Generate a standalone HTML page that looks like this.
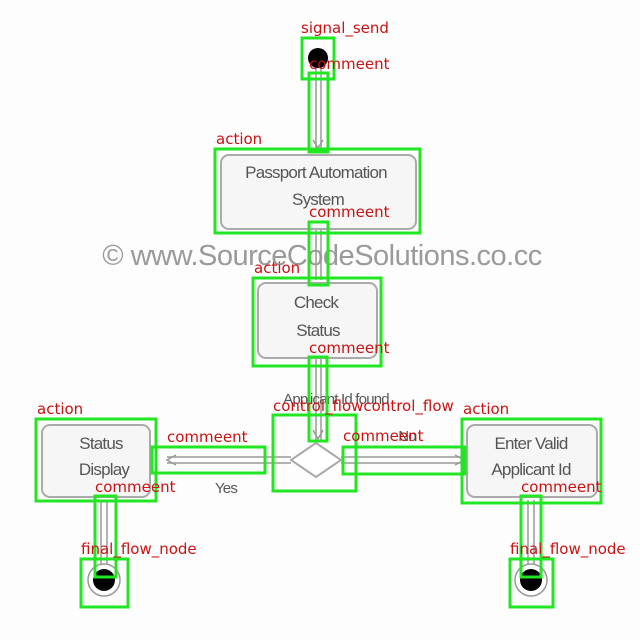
<!DOCTYPE html>
<html><head><style>body{margin:0;background:#fff}svg{display:block}</style></head><body>
<svg width="640" height="640" viewBox="0 0 640 640" xmlns="http://www.w3.org/2000/svg">
<rect width="640" height="640" fill="#fdfdfd"/>
<text x="322" y="265" text-anchor="middle" font-family="Liberation Sans, sans-serif" font-size="29" fill="#9a9a9a" letter-spacing="-0.5">© www.SourceCodeSolutions.co.cc</text>
<g stroke="#999" stroke-width="1.5" fill="none">
<line x1="316" y1="66" x2="316" y2="150"/><line x1="321" y1="66" x2="321" y2="150"/>
<line x1="316" y1="230" x2="316" y2="280"/><line x1="321" y1="230" x2="321" y2="280"/>
<line x1="316" y1="358" x2="316" y2="440"/><line x1="321" y1="358" x2="321" y2="440"/>
<line x1="291" y1="457" x2="167" y2="457"/><line x1="291" y1="463" x2="167" y2="463"/>
<line x1="341" y1="457" x2="463" y2="457"/><line x1="341" y1="463" x2="463" y2="463"/>
<line x1="101" y1="500" x2="101" y2="565"/><line x1="107" y1="500" x2="107" y2="565"/>
<line x1="528" y1="500" x2="528" y2="565"/><line x1="534" y1="500" x2="534" y2="565"/>
<polyline points="313,140 318,148 323,140"/>
<polyline points="313,430 318,439 323,430"/>
<polyline points="176,455 167,460 176,465"/>
<polyline points="455,455 464,460 455,465"/>
</g>
<circle cx="318" cy="58" r="10" fill="#000"/>
<g fill="#f6f6f6" stroke="#aaa" stroke-width="2">
<rect x="221" y="155" width="195" height="74" rx="8"/>
<rect x="258" y="283" width="119" height="75" rx="8"/>
<rect x="42" y="425" width="108" height="72" rx="8"/>
<rect x="467" y="425" width="130" height="72" rx="8"/>
<polygon points="316,443 341,460 316,477 291,460" fill="#fff"/>
</g>
<circle cx="104" cy="580" r="16" fill="#fff" stroke="#999" stroke-width="1.5"/>
<circle cx="104" cy="580" r="11" fill="#000"/>
<circle cx="531" cy="580" r="16" fill="#fff" stroke="#999" stroke-width="1.5"/>
<circle cx="531" cy="580" r="11" fill="#000"/>
<g font-family="Liberation Sans, sans-serif" font-size="17" fill="#555" text-anchor="middle" letter-spacing="-0.8">
<text x="316" y="178">Passport Automation</text>
<text x="318" y="205">System</text>
<text x="316" y="308">Check</text>
<text x="318" y="336">Status</text>
<text x="101" y="449">Status</text>
<text x="104" y="475">Display</text>
<text x="531" y="449">Enter Valid</text>
<text x="531" y="475">Applicant Id</text>
<text x="336" y="404" font-size="15">Applicant Id found</text>
<text x="226" y="493" font-size="15">Yes</text>
<text x="407" y="441" font-size="15">No</text>
</g>
<g fill="none" stroke="#22e622" stroke-width="3">
<rect x="302" y="38" width="32" height="41"/>
<rect x="309" y="73" width="19" height="79"/>
<rect x="215" y="149" width="205" height="84"/>
<rect x="309" y="222" width="19" height="63"/>
<rect x="253" y="278" width="128" height="88"/>
<rect x="309" y="357" width="18" height="84"/>
<rect x="273" y="415" width="83" height="76"/>
<rect x="152" y="447" width="113" height="26"/>
<rect x="343" y="447" width="122" height="27"/>
<rect x="36" y="419" width="120" height="82"/>
<rect x="462" y="419" width="139" height="84"/>
<rect x="95" y="496" width="21" height="81"/>
<rect x="81" y="559" width="47" height="48"/>
<rect x="521" y="496" width="20" height="81"/>
<rect x="510" y="559" width="43" height="48"/>
</g>
<g font-family="DejaVu Sans, sans-serif" font-size="15" fill="#cc1111">
<text x="301" y="33">signal_send</text>
<text x="309" y="69">commeent</text>
<text x="216" y="144">action</text>
<text x="309" y="217">commeent</text>
<text x="254" y="273">action</text>
<text x="309" y="353">commeent</text>
<text x="273" y="411">control_flowcontrol_flow</text>
<text x="463" y="414">action</text>
<text x="37" y="414">action</text>
<text x="167" y="442">commeent</text>
<text x="343" y="441">commeent</text>
<text x="95" y="492">commeent</text>
<text x="521" y="492">commeent</text>
<text x="81" y="554">final_flow_node</text>
<text x="510" y="554">final_flow_node</text>
</g>
</svg>
</body></html>
